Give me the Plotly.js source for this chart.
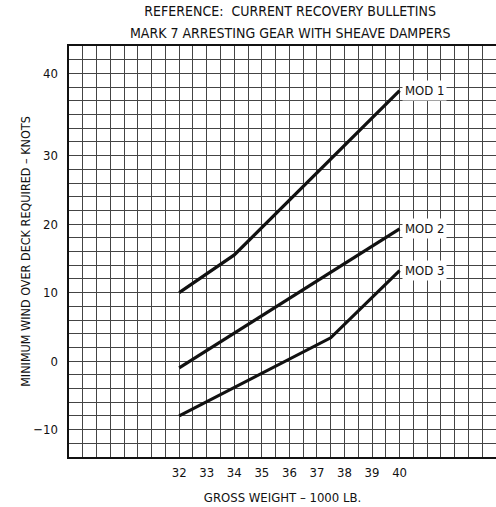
<!DOCTYPE html>
<html>
<head>
<meta charset="utf-8">
<script src="https://cdn.plot.ly/plotly-3.0.1.min.js"></script>
<style>html,body{margin:0;padding:0;overflow:hidden;background:#fff;}</style>
</head>
<body>
<div id="chart" style="width:496px;height:507px;"></div>
<script>
// Gross weight (1000 lb) and minimum wind over deck (knots)
const mod1X = [32, 34, 40];
const mod1Y = [10, 15.5, 39.5];
const mod2X = [32, 36, 40];
const mod2Y = [-1, 9.2, 19.3];
const mod3X = [32, 37.5, 40];
const mod3Y = [-8, 3.4, 13.2];
const seriesNames = ['MOD 1', 'MOD 2', 'MOD 3'];

const xTickVals = [32, 33, 34, 35, 36, 37, 38, 39, 40];
const xTickText = ['32', '33', '34', '35', '36', '37', '38', '39', '40'];
// as printed on the original (the "40" label sits one grid line high)
const yTickVals = [-10, 0, 10, 20, 30, 42];
const yTickText = ['\u221210', '0', '10', '20', '30', '40'];

const titleLine1 = 'REFERENCE:  CURRENT RECOVERY BULLETINS';
const titleLine2 = 'MARK 7 ARRESTING GEAR WITH SHEAVE DAMPERS';
const xTitle = 'GROSS WEIGHT \u2013 1000 LB.';
const yTitle = 'MINIMUM WIND OVER DECK REQUIRED \u2013 KNOTS';

const FONT = '"Liberation Sans Narrow", "DejaVu Sans Condensed", "Roboto Condensed", Arial, sans-serif';
const INK = '#111';

const xs = [mod1X, mod2X, mod3X];
const ys = [mod1Y, mod2Y, mod3Y];

const traces = xs.map((x, i) => ({
  x: x, y: ys[i], name: seriesNames[i], type: 'scatter', mode: 'lines',
  line: {color: INK, width: 3.2}, showlegend: false, hoverinfo: 'skip'
}));

const labelAnns = xs.map((x, i) => ({
  x: x[x.length - 1], y: ys[i][ys[i].length - 1], xref: 'x', yref: 'y',
  text: seriesNames[i], showarrow: false, xanchor: 'left', yanchor: 'middle',
  xshift: 2, bgcolor: '#fff', borderpad: 2,
  font: {family: FONT, size: 13, color: INK}
}));

const layout = {
  width: 496, height: 507,
  margin: {l: 69, r: 0, t: 46, b: 50, pad: 0},
  paper_bgcolor: '#fff', plot_bgcolor: '#fff',
  font: {family: FONT, color: INK, size: 13},
  title: {text: titleLine1, x: 0.585, xanchor: 'center', y: 0.978, yanchor: 'middle',
          font: {family: FONT, size: 14, color: INK}},
  xaxis: {
    range: [28, 43.5], tickvals: xTickVals, ticktext: xTickText,
    ticks: '', ticklabelstandoff: 2,
    showgrid: true, gridcolor: '#444', gridwidth: 1,
    minor: {tick0: 28, dtick: 0.5, showgrid: true, gridcolor: '#444', gridwidth: 1},
    showline: true, linecolor: INK, linewidth: 2, mirror: true,
    zeroline: false, fixedrange: true,
    tickfont: {family: FONT, size: 13, color: INK},
    title: {text: xTitle, font: {family: FONT, size: 13, color: INK}, standoff: 14}
  },
  yaxis: {
    range: [-14, 46], tickvals: yTickVals, ticktext: yTickText,
    ticks: '', ticklabelstandoff: 6,
    showgrid: true, gridcolor: '#444', gridwidth: 1,
    minor: {tick0: -14, dtick: 2, showgrid: true, gridcolor: '#444', gridwidth: 1},
    showline: true, linecolor: INK, linewidth: 2.5,
    zeroline: false, fixedrange: true,
    tickfont: {family: FONT, size: 13, color: INK},
    title: {text: yTitle, font: {family: FONT, size: 12.5, color: INK}, standoff: 0}
  },
  annotations: [
    {text: titleLine2, xref: 'paper', yref: 'paper', x: 0.5176, y: 1.0316,
     xanchor: 'center', yanchor: 'middle', showarrow: false,
     font: {family: FONT, size: 14, color: INK}}
  ].concat(labelAnns)
};

Plotly.newPlot('chart', traces, layout, {staticPlot: true, displayModeBar: false});
</script>
</body>
</html>
